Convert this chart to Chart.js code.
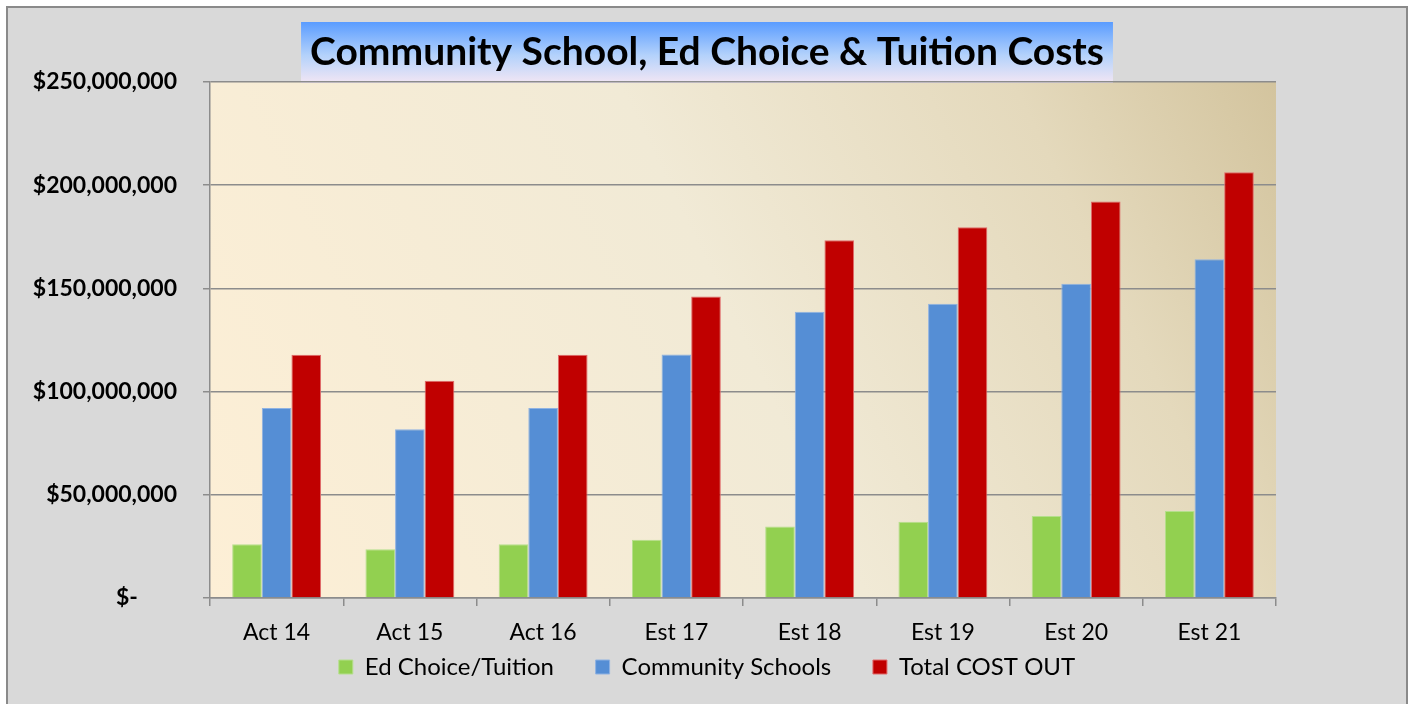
<!DOCTYPE html>
<html>
<head>
<meta charset="utf-8">
<script src="https://cdn.jsdelivr.net/npm/chart.js@4.4.1/dist/chart.umd.min.js"></script>
<style>
  html, body { margin: 0; padding: 0; background: #ffffff; }
  #frame {
    position: absolute; left: 6px; top: 6px;
    width: 1398px; height: 700px;
    border: 2px solid #8a8a8a;
    background: #d9d9d9;
  }
  #chart { display: block; }
</style>
</head>
<body>
<div id="frame"><canvas id="chart" width="1398" height="698"></canvas></div>
<script>
// datos
const categorias = ['Act 14', 'Act 15', 'Act 16', 'Est 17', 'Est 18', 'Est 19', 'Est 20', 'Est 21'];
const edChoice = [26100000, 23600000, 26000000, 28200000, 34600000, 37000000, 39700000, 42200000];
const communitySchools = [92100000, 81700000, 92100000, 118000000, 138700000, 142600000, 152300000, 164100000];
const totalCostOut = [117800000, 105200000, 117800000, 146100000, 173300000, 179600000, 192100000, 206300000];
const yTicks = [0, 50000000, 100000000, 150000000, 200000000, 250000000];

const FONT = 'Lato, "Open Sans", sans-serif';

function moneda(v) {
    if (v === 0) return '$-' + ' '.repeat(7);
    return '$' + v.toLocaleString('en-US');
}

// fondo degradado del area de trazado y caja del titulo
const fondos = {
    id: 'fondos',
    beforeDraw(chart) {
        const ctx = chart.ctx;
        const a = chart.chartArea;
        const g = ctx.createLinearGradient(a.left, a.bottom, a.right, a.top);
        g.addColorStop(0, '#fdefd6');
        g.addColorStop(0.5, '#f1ead6');
        g.addColorStop(0.8, '#e4d9bc');
        g.addColorStop(1, '#d3c49e');
        ctx.save();
        ctx.fillStyle = g;
        ctx.fillRect(a.left, a.top, a.right - a.left, a.bottom - a.top);

        const t = chart.titleBlock;
        const opts = chart.options.plugins.title;
        ctx.font = 'bold ' + opts.font.size + 'px ' + FONT;
        const w = ctx.measureText(opts.text).width + 18;
        const cx = (t.left + t.right) / 2;
        const top = t.top + opts.padding.top;
        const gt = ctx.createLinearGradient(0, top, 0, a.top + 1);
        gt.addColorStop(0, '#5a9cff');
        gt.addColorStop(0.55, '#b4d2fb');
        gt.addColorStop(1, '#f2e6f4');
        ctx.fillStyle = gt;
        ctx.fillRect(cx - w / 2, top, w, a.top + 1 - top);
        ctx.restore();
    }
};

new Chart(document.getElementById('chart').getContext('2d'), {
    type: 'bar',
    data: {
        labels: categorias,
        datasets: [
            { label: 'Ed Choice/Tuition', data: edChoice, backgroundColor: '#92d050', borderColor: '#b5df8c', borderWidth: 1 },
            { label: 'Community Schools', data: communitySchools, backgroundColor: '#558ed5', borderColor: '#8fb2e2', borderWidth: 1 },
            { label: 'Total COST OUT', data: totalCostOut, backgroundColor: '#c00000', borderColor: '#e06a6a', borderWidth: 1 }
        ]
    },
    options: {
        responsive: false,
        animation: false,
        layout: { padding: { left: 0, right: 0, top: 0, bottom: 17 } },
        datasets: { bar: { barPercentage: 1.0, categoryPercentage: 0.667 } },
        plugins: {
            title: {
                display: true,
                text: 'Community School, Ed Choice & Tuition Costs',
                color: '#000000',
                font: { family: FONT, size: 39, weight: 'bold', lineHeight: 1.538 },
                padding: { top: 14, bottom: 0 }
            },
            legend: {
                position: 'bottom',
                labels: {
                    color: '#000000',
                    font: { family: FONT, size: 24 },
                    boxWidth: 14,
                    boxHeight: 14,
                    padding: 11,
                    generateLabels(chart) {
                        const items = Chart.defaults.plugins.legend.labels.generateLabels(chart);
                        // separacion extra entre elementos de la leyenda
                        items.forEach((it, i) => {
                            if (i < items.length - 1) it.text = it.text + ' '.repeat(5);
                        });
                        return items;
                    }
                }
            },
            tooltip: { enabled: false }
        },
        scales: {
            x: {
                afterFit(scale) { scale.height = 46; },
                grid: { drawOnChartArea: false, drawTicks: true, tickLength: 8, color: '#8c8c8c', lineWidth: 1.5 },
                border: { color: '#8c8c8c', width: 1.5 },
                ticks: { color: '#000000', font: { family: FONT, size: 23 }, padding: 13 }
            },
            y: {
                min: 0,
                max: 250000000,
                afterFit(scale) { scale.width = 202; },
                afterBuildTicks(scale) { scale.ticks = yTicks.map(v => ({ value: v })); },
                grid: { color: '#8c8c8c', lineWidth: 1.5, tickLength: 7 },
                border: { color: '#8c8c8c', width: 1.5 },
                ticks: {
                    color: '#000000',
                    font: { family: FONT, size: 23, weight: 'bold' },
                    padding: 26,
                    callback: v => moneda(v)
                }
            },
            y2: {
                position: 'right',
                display: true,
                afterFit(scale) { scale.width = 130; },
                grid: { display: false },
                border: { display: false },
                ticks: { display: false }
            }
        }
    },
    plugins: [fondos]
});
</script>
</body>
</html>
